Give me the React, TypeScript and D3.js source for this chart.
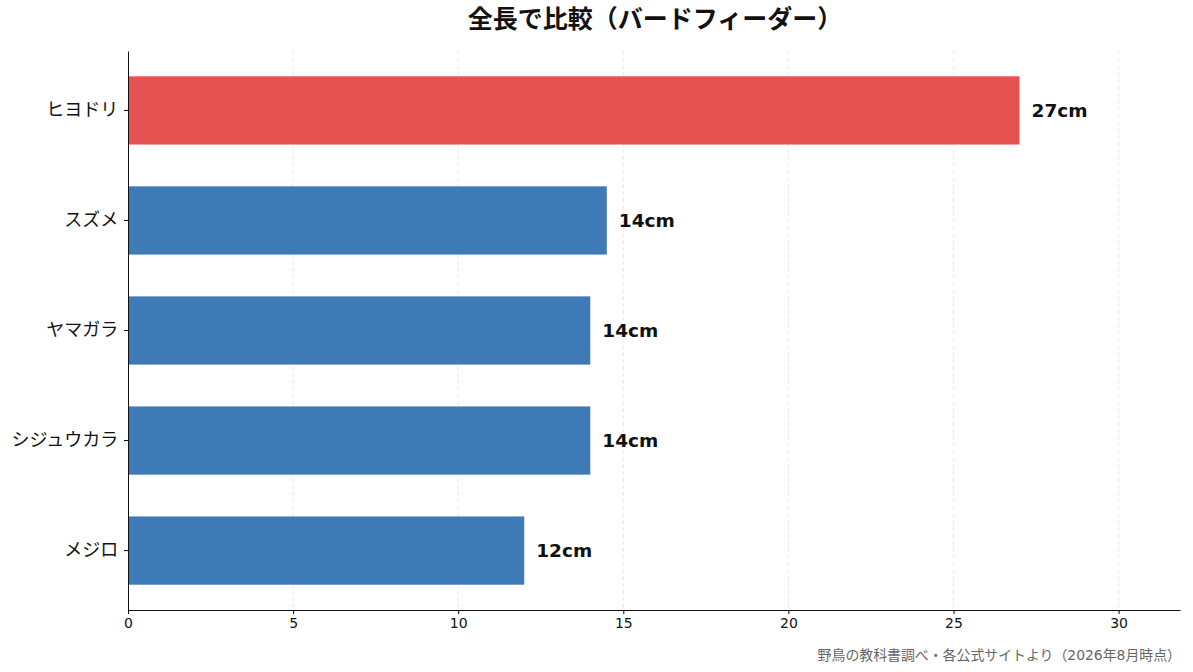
import React, { useRef, useEffect } from "react";
import * as d3 from "d3";

// bird names (top to bottom) and total length in cm
const birds = ["ヒヨドリ", "スズメ", "ヤマガラ", "シジュウカラ", "メジロ"];
const lengths = [27, 14.5, 14, 14, 12];
const labels = ["27cm", "14cm", "14cm", "14cm", "12cm"];
const highlight = ["ヒヨドリ"];
const xTicks = [0, 5, 10, 15, 20, 25, 30];

const W = 1193;
const H = 672;
const FONT = "'DejaVu Sans', 'Noto Sans CJK JP', sans-serif";
const JP = "'Noto Sans CJK JP', sans-serif";

const BirdChart: React.FC = () => {
  const svgRef = useRef<SVGSVGElement>(null);

  useEffect(() => {
    if (!svgRef.current) return;
    const svg = d3.select(svgRef.current);
    svg.selectAll("*").remove();

    const margin = { top: 51, right: 13, bottom: 62, left: 128 };
    const x = d3
      .scaleLinear()
      .domain([0, d3.max(lengths)! * 1.18])
      .range([margin.left, W - margin.right]);
    const y = d3
      .scaleBand()
      .domain(birds)
      .range([margin.top, H - margin.bottom])
      .paddingInner(0.38)
      .paddingOuter(0.23);

    const data = birds.map((name, i) => ({ name, value: lengths[i], label: labels[i] }));

    // grid
    svg
      .append("g")
      .selectAll("line")
      .data(xTicks.slice(1))
      .enter()
      .append("line")
      .attr("x1", (d) => x(d))
      .attr("x2", (d) => x(d))
      .attr("y1", margin.top)
      .attr("y2", H - margin.bottom)
      .attr("stroke", "#e3e3e3")
      .attr("stroke-width", 0.8)
      .attr("stroke-dasharray", "4,3");

    // bars
    svg
      .append("g")
      .selectAll("rect")
      .data(data)
      .enter()
      .append("rect")
      .attr("x", x(0))
      .attr("y", (d) => y(d.name)!)
      .attr("width", (d) => x(d.value) - x(0))
      .attr("height", y.bandwidth())
      .attr("fill", (d) => (highlight.includes(d.name) ? "#e65252" : "#3e7ab6"));

    // value labels
    svg
      .append("g")
      .selectAll("text")
      .data(data)
      .enter()
      .append("text")
      .attr("x", (d) => x(d.value) + 12)
      .attr("y", (d) => y(d.name)! + y.bandwidth() / 2)
      .attr("dy", "0.36em")
      .attr("font-family", FONT)
      .attr("font-weight", "bold")
      .attr("font-size", 18.5)
      .attr("fill", "#111")
      .text((d) => d.label);

    // x axis
    const xAxis = svg
      .append("g")
      .attr("transform", `translate(0,${H - margin.bottom})`)
      .call(d3.axisBottom(x).tickValues(xTicks).tickSize(4).tickSizeOuter(0));
    xAxis.select(".domain").attr("stroke", "#111");
    xAxis
      .selectAll("text")
      .attr("font-family", FONT)
      .attr("font-size", 14)
      .attr("fill", "#111")
      .attr("dy", "0.8em");

    // y axis
    const yAxis = svg
      .append("g")
      .attr("transform", `translate(${margin.left},0)`)
      .call(d3.axisLeft(y).tickSize(4).tickSizeOuter(0));
    yAxis.select(".domain").attr("stroke", "#111");
    yAxis
      .selectAll("text")
      .attr("font-family", JP)
      .attr("font-size", 18)
      .attr("fill", "#111")
      .attr("dx", "-0.15em");

    // title
    svg
      .append("text")
      .attr("x", 655)
      .attr("y", 28)
      .attr("text-anchor", "middle")
      .attr("font-family", JP)
      .attr("font-weight", "bold")
      .attr("font-size", 25)
      .attr("fill", "#111")
      .text("全長で比較（バードフィーダー）");

    // source
    svg
      .append("text")
      .attr("x", 1181)
      .attr("y", 660)
      .attr("text-anchor", "end")
      .attr("font-family", FONT)
      .attr("font-size", 13.9)
      .attr("fill", "#666")
      .text("野鳥の教科書調べ・各公式サイトより（2026年8月時点）");
  }, []);

  return (
    <svg
      ref={svgRef}
      width={W}
      height={H}
      style={{ position: "absolute", left: 0, top: 0, background: "#fff" }}
    />
  );
};

export default function App() {
  return <BirdChart />;
}
